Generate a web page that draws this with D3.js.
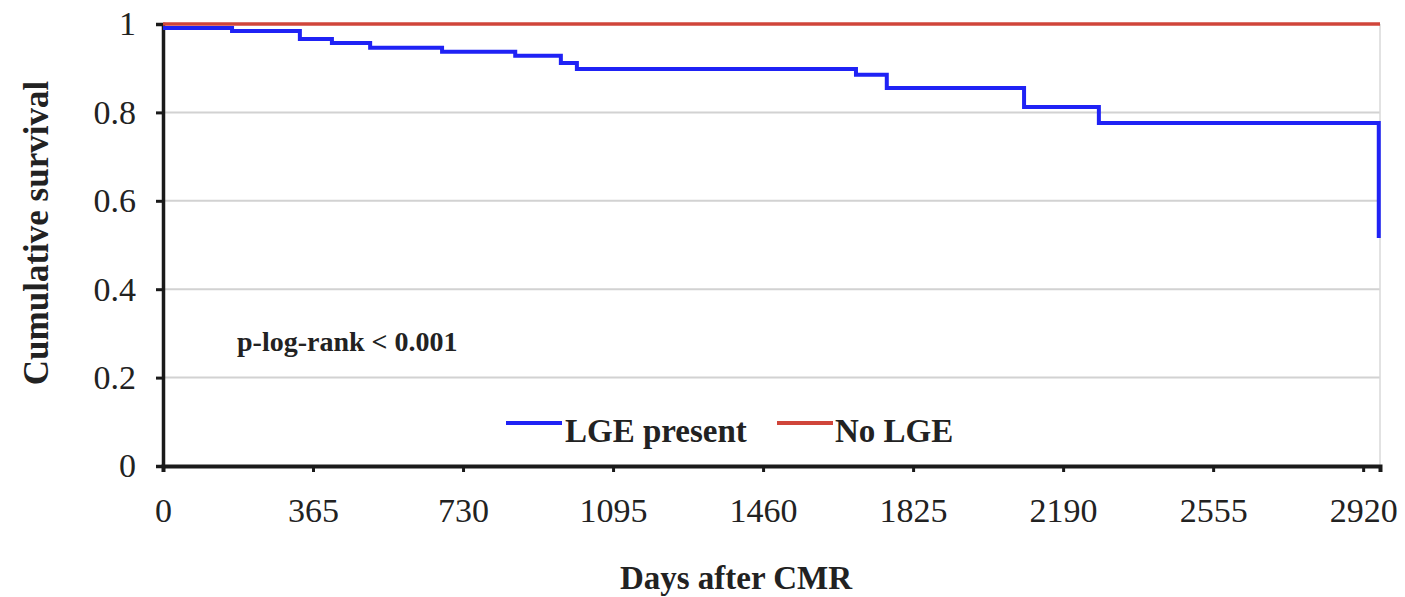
<!DOCTYPE html>
<html>
<head>
<meta charset="utf-8">
<script src="https://cdn.jsdelivr.net/npm/d3@7"></script>
<style>
  html, body { margin: 0; padding: 0; background: #fff; }
  svg { display: block; }
  text { font-family: "Liberation Serif", "Times New Roman", serif; fill: #222; }
</style>
</head>
<body>
<svg id="chart" width="1405" height="597"></svg>
<script>
// Kaplan-Meier survival by late gadolinium enhancement (LGE) status
const lgeDays     = [0, 168, 333, 411, 504, 679, 857, 968, 1007, 1686, 1761, 2095, 2277, 2958];
const lgeSurvival = [0.991, 0.984, 0.966, 0.957, 0.946, 0.937, 0.928, 0.912, 0.898, 0.885, 0.855, 0.812, 0.776, 0.516];
const noLgeDays     = [0, 2961];
const noLgeSurvival = [1, 1];

const xTicks = [0, 365, 730, 1095, 1460, 1825, 2190, 2555, 2920];
const yTicks = [0, 0.2, 0.4, 0.6, 0.8, 1];
const yTickLabels = ["0", "0.2", "0.4", "0.6", "0.8", "1"];

const legendLabels = ["LGE present", "No LGE"];
const colors = { lge: "#1f22f5", noLge: "#d0453a" };

const svg = d3.select("#chart");
const plot = { left: 163, right: 1380, top: 24, bottom: 466 };

const x = d3.scaleLinear().domain([0, 2961]).range([plot.left, plot.right]);
const y = d3.scaleLinear().domain([0, 1]).range([plot.bottom, plot.top]);

// gridlines
svg.append("g")
  .selectAll("line")
  .data(yTicks.filter(d => d > 0 && d < 1))
  .join("line")
  .attr("x1", plot.left).attr("x2", plot.right)
  .attr("y1", d => y(d)).attr("y2", d => y(d))
  .attr("stroke", "#d2d2d2").attr("stroke-width", 2);

// right border of plot area
svg.append("line")
  .attr("x1", plot.right).attr("x2", plot.right)
  .attr("y1", y(1)).attr("y2", y(0))
  .attr("stroke", "#d8d8d8").attr("stroke-width", 1.5);

// x axis
const xAxis = svg.append("g")
  .attr("transform", `translate(0,${plot.bottom})`)
  .call(d3.axisBottom(x).tickValues(xTicks).tickSize(6).tickPadding(26).tickFormat(d3.format("d")));
xAxis.select(".domain").attr("stroke", "#1a1a1a").attr("stroke-width", 4);
xAxis.selectAll(".tick line").attr("stroke", "#1a1a1a").attr("stroke-width", 3);
xAxis.selectAll(".tick text")
  .attr("font-size", 34).attr("font-family", "Liberation Serif").attr("fill", "#2a2a2a");

// y axis
const yAxis = svg.append("g")
  .attr("transform", `translate(${plot.left},0)`)
  .call(d3.axisLeft(y).tickValues(yTicks).tickSize(7).tickPadding(20)
        .tickFormat((d, i) => yTickLabels[i]));
yAxis.select(".domain").attr("stroke", "#1a1a1a").attr("stroke-width", 3.5);
yAxis.selectAll(".tick line").attr("stroke", "#1a1a1a").attr("stroke-width", 3);
yAxis.selectAll(".tick text")
  .attr("font-size", 34).attr("font-family", "Liberation Serif").attr("fill", "#2a2a2a");

// survival curves
const step = d3.line().x(d => x(d[0])).y(d => y(d[1])).curve(d3.curveStepAfter);

svg.append("path")
  .datum(d3.zip(noLgeDays, noLgeSurvival))
  .attr("d", step)
  .attr("fill", "none").attr("stroke", colors.noLge).attr("stroke-width", 3.5);

svg.append("path")
  .datum(d3.zip(lgeDays, lgeSurvival))
  .attr("d", step)
  .attr("fill", "none").attr("stroke", colors.lge).attr("stroke-width", 4);

// axis titles
svg.append("text")
  .attr("transform", `translate(48,233) rotate(-90)`)
  .attr("text-anchor", "middle")
  .attr("font-size", 35).attr("font-weight", "bold")
  .text("Cumulative survival");

svg.append("text")
  .attr("x", 736).attr("y", 589)
  .attr("text-anchor", "middle")
  .attr("font-size", 33).attr("font-weight", "bold")
  .text("Days after CMR");

// p-value annotation
svg.append("text")
  .attr("x", 237).attr("y", 351)
  .attr("font-size", 28).attr("font-weight", "bold")
  .text("p-log-rank < 0.001");

// legend
const legend = [
  { label: legendLabels[0], color: colors.lge, x1: 506, x2: 562, tx: 565 },
  { label: legendLabels[1], color: colors.noLge, x1: 777, x2: 833, tx: 835 }
];
const lg = svg.append("g");
lg.selectAll("line")
  .data(legend)
  .join("line")
  .attr("x1", d => d.x1).attr("x2", d => d.x2)
  .attr("y1", 423).attr("y2", 423)
  .attr("stroke", d => d.color).attr("stroke-width", 4);
lg.selectAll("text")
  .data(legend)
  .join("text")
  .attr("x", d => d.tx).attr("y", 442)
  .attr("font-size", 33).attr("font-weight", "bold")
  .text(d => d.label);
</script>
</body>
</html>
